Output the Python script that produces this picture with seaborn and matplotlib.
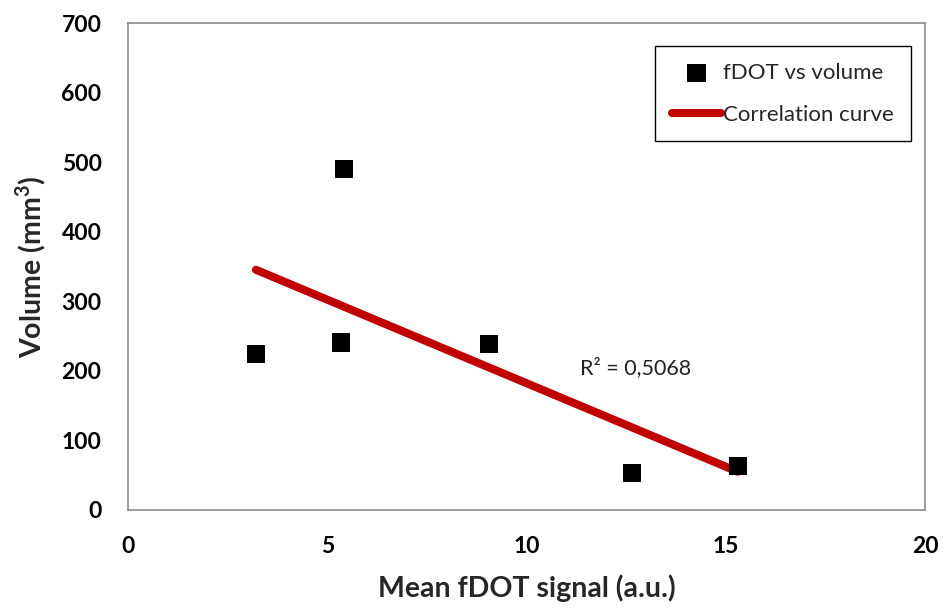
import numpy as np
import pandas as pd
import matplotlib
matplotlib.use("Agg")
import matplotlib.pyplot as plt
import seaborn as sns

# Data
signal = [3.21, 5.42, 5.35, 9.06, 12.65, 15.30]
volume = [224, 490, 241, 239, 53, 63]
x_ticks = [0, 5, 10, 15, 20]
y_ticks = [0, 100, 200, 300, 400, 500, 600, 700]
r2_text = "R² = 0,5068"

df = pd.DataFrame({"signal": signal, "volume": volume})

sns.set_theme(style="white")
plt.rcParams["font.family"] = ["Lato", "DejaVu Sans"]

fig = plt.figure(figsize=(9.44, 6.08), dpi=100)
ax = fig.add_axes([128 / 944, 1 - 510 / 608, (925 - 128) / 944, (510 - 23) / 608])

sns.scatterplot(data=df, x="signal", y="volume", ax=ax, marker="s", s=175,
                color="black", edgecolor="none", label="fDOT vs volume", zorder=3)
sns.regplot(data=df, x="signal", y="volume", ax=ax, scatter=False, ci=None,
            truncate=True, color="#C00000",
            line_kws={"linewidth": 5.8, "solid_capstyle": "round", "zorder": 2},
            label="Correlation curve")

ax.set_xlim(0, 20)
ax.set_ylim(0, 700)
ax.set_xticks(x_ticks)
ax.set_yticks(y_ticks)
ax.tick_params(axis="both", length=0, labelsize=16.5, colors="black")
ax.tick_params(axis="x", pad=19)
ax.tick_params(axis="y", pad=19)
for lab in ax.get_xticklabels() + ax.get_yticklabels():
    lab.set_fontweight("bold")

for sp in ax.spines.values():
    sp.set_color("#8c8c8c")
    sp.set_linewidth(1.2)

ax.set_xlabel("Mean fDOT signal (a.u.)", fontsize=20.5, fontweight="bold", labelpad=12)
ax.set_ylabel("Volume (mm$^\\mathregular{3}$)", fontsize=20.5, fontweight="bold", labelpad=10)

ax.text(11.35, 204, r2_text, fontsize=15.5, va="center", ha="left", color="#222222")

leg = ax.legend(loc="upper right", bbox_to_anchor=(0.982, 0.953), fontsize=16,
                frameon=True, fancybox=False, edgecolor="black", framealpha=1,
                handlelength=2.2, handletextpad=0.1, labelspacing=1.0,
                borderpad=0.75, borderaxespad=0, markerscale=1.0)
leg.get_frame().set_linewidth(1.0)

fig.savefig("out.png", dpi=100)
